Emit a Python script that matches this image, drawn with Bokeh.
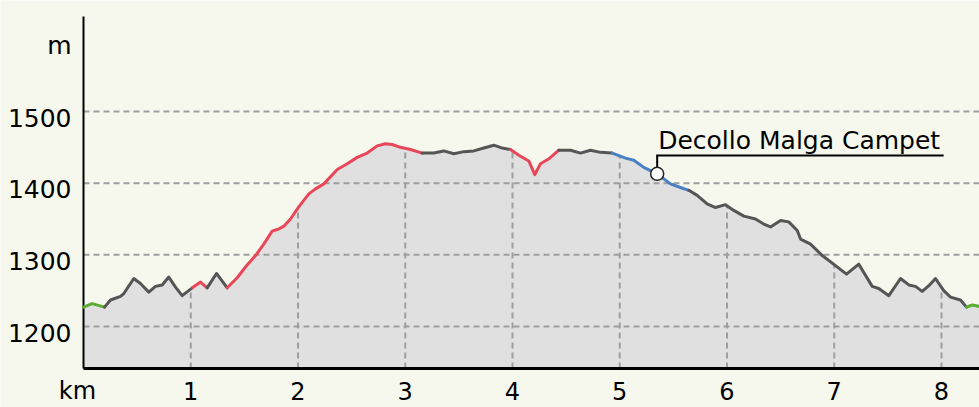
import numpy as np
from bokeh.plotting import figure
from bokeh.models import Range1d
from bokeh.embed import file_html
from bokeh.resources import INLINE
from bokeh.core.properties import value

# ---- data (distance km, elevation m) ----
km = [0.000, 0.081, 0.196, 0.252, 0.345, 0.376, 0.469, 0.531, 0.609, 0.671,
      0.734, 0.795, 0.858, 0.920, 1.014, 1.091, 1.153, 1.240, 1.340, 1.433,
      1.510, 1.604, 1.681, 1.759, 1.821, 1.868, 1.930, 2.007, 2.101, 2.163,
      2.241, 2.366, 2.459, 2.552, 2.645, 2.738, 2.816, 2.878, 2.956, 3.049,
      3.158, 3.266, 3.359, 3.453, 3.546, 3.639, 3.732, 3.826, 3.904, 3.981,
      4.059, 4.152, 4.208, 4.261, 4.339, 4.432, 4.541, 4.634, 4.727, 4.821,
      4.930, 5.054, 5.131, 5.224, 5.349, 5.473, 5.566, 5.644, 5.722, 5.815,
      5.893, 5.986, 6.063, 6.157, 6.266, 6.343, 6.406, 6.499, 6.576, 6.655,
      6.686, 6.779, 6.888, 7.012, 7.114, 7.229, 7.354, 7.415, 7.509, 7.618,
      7.695, 7.758, 7.820, 7.882, 7.944, 8.021, 8.084, 8.177, 8.233, 8.286,
      8.354]
elev = [1227, 1232, 1227, 1237, 1242, 1246, 1267, 1260, 1248, 1256,
        1258, 1269, 1255, 1243, 1254, 1262, 1254, 1274, 1254, 1268,
        1283, 1299, 1315, 1333, 1336, 1340, 1350, 1367, 1385, 1392,
        1399, 1419, 1427, 1436, 1442, 1452, 1455, 1454, 1450, 1447,
        1442, 1442, 1445, 1441, 1444, 1445, 1449, 1453, 1449, 1447,
        1439, 1431, 1412, 1427, 1434, 1446, 1446, 1442, 1446, 1443,
        1442, 1435, 1432, 1422, 1413, 1399, 1394, 1390, 1383, 1371,
        1366, 1370, 1362, 1354, 1350, 1343, 1339, 1348, 1346, 1334,
        1322, 1315, 1299, 1285, 1273, 1287, 1256, 1253, 1243, 1267,
        1258, 1256, 1249, 1257, 1267, 1250, 1241, 1237, 1227, 1230,
        1228]

# track sections: start km and surface type
section_start = [0.0, 0.196, 1.014, 1.153, 1.340, 3.158, 3.981, 4.432, 4.930, 5.644, 8.233]
section_type = ["flat", "trail", "steep", "trail", "steep", "trail", "steep", "trail", "road", "trail", "flat"]
type_color = {"flat": "#5aad30", "trail": "#555555", "steep": "#e8475a", "road": "#4a7fc6"}

x_ticks = [0, 1, 2, 3, 4, 5, 6, 7, 8]
x_labels = ["km", "1", "2", "3", "4", "5", "6", "7", "8"]
y_ticks = [1200, 1300, 1400, 1500, 1600]
y_labels = ["1200", "1300", "1400", "1500", "m"]
grid_y = [1200, 1300, 1400, 1500]
grid_x = [1, 2, 3, 4, 5, 6, 7, 8]

poi_km = 5.349
poi_name = "Decollo Malga Campet"
poi_callout_elev = 1438.6
poi_underline_end_km = 8.02

# axis extent (data units)
axis_y_min, axis_y_max = 1141.4, 1632.6
axis_x_min, axis_x_max = 0.0, km[-1]

# ---- layout / style ----
W, H = 979, 407
BG = "#f6f8ed"
FONT = "DejaVu Sans"
FS = "25px"
left_px, ref_px = 83, 111          # screen x of km 0, screen y of 1500 m
ppk = 107.25                       # pixels per km
ppm = 0.7167                       # pixels per metre
xs = -left_px / ppk
ys_top = 1500 + ref_px / ppm
x_range = Range1d(xs, xs + W / ppk)
y_range = Range1d(ys_top - H / ppm, ys_top)

p = figure(width=W, height=H, output_backend="svg", toolbar_location=None,
           x_range=x_range, y_range=y_range,
           min_border_left=0, min_border_right=0, min_border_top=0, min_border_bottom=0)
p.background_fill_color = BG
p.border_fill_color = BG
p.outline_line_color = None
p.xaxis.visible = False
p.yaxis.visible = False
p.xgrid.visible = False
p.ygrid.visible = False

kx = np.array(km)
ey = np.array(elev)

# area fill
p.varea(x=kx, y1=axis_y_min, y2=ey, fill_color="#e0e0e0")

# horizontal grid (over the fill)
p.segment(x0=[axis_x_min] * len(grid_y), y0=grid_y, x1=[axis_x_max] * len(grid_y), y1=grid_y,
          line_color="#9e9e9e", line_width=2, line_dash="6 4")
# vertical grid only beneath the profile
gx = np.array(grid_x, dtype=float)
p.segment(x0=gx, y0=[axis_y_min] * len(gx), x1=gx, y1=np.interp(gx, kx, ey),
          line_color="#9e9e9e", line_width=2, line_dash="6 4")

# axes lines
p.segment(x0=[axis_x_min], y0=[axis_y_min], x1=[axis_x_min], y1=[axis_y_max], line_color="black", line_width=2)
p.segment(x0=[axis_x_min], y0=[axis_y_min], x1=[axis_x_max + 1], y1=[axis_y_min], line_color="black", line_width=3)

# coloured profile line
ends = section_start[1:] + [km[-1]]
for s, e, t in zip(section_start, ends, section_type):
    m = (kx >= s - 1e-9) & (kx <= e + 1e-9)
    p.line(kx[m], ey[m], line_color=type_color[t], line_width=3, line_join="round", line_cap="round")

# point of interest callout
poi_elev = float(np.interp(poi_km, kx, ey))
p.segment(x0=[poi_km], y0=[poi_elev], x1=[poi_km], y1=[poi_callout_elev], line_color="black", line_width=2)
p.segment(x0=[poi_km - 1 / ppk], y0=[poi_callout_elev], x1=[poi_underline_end_km], y1=[poi_callout_elev],
          line_color="black", line_width=2)
p.scatter([poi_km], [poi_elev], size=13, fill_color="white", line_color="#222222", line_width=1.5)
p.text(x=[poi_km + 1 / ppk], y=[poi_callout_elev + 15 / ppm], text=[poi_name],
       text_font=value(FONT), text_font_size=FS, text_color="black",
       text_baseline="middle", text_align="left")

# tick labels
x_lab_pos = [t - (6 / ppk if t == 0 else 0) for t in x_ticks]
p.text(x=x_lab_pos, y=[axis_y_min - 22 / ppm] * len(x_ticks), text=x_labels,
       text_font=value(FONT), text_font_size="24px", text_color="black",
       text_align="center", text_baseline="middle")
p.text(x=[axis_x_min - 12 / ppk] * len(y_ticks), y=[t - 6 / ppm for t in y_ticks], text=y_labels,
       text_font=value(FONT), text_font_size=FS, text_color="black",
       text_align="right", text_baseline="middle")

open("out.html", "w").write(file_html(p, INLINE))
